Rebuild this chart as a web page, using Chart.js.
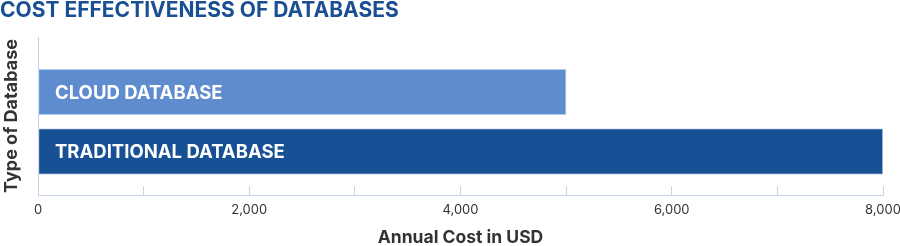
<!DOCTYPE html>
<html>
<head>
<meta charset="utf-8">
<script src="https://cdn.jsdelivr.net/npm/chart.js@4/dist/chart.umd.min.js"></script>
<style>
  html, body { margin:0; padding:0; background:#fff; }
  #wrap { width:900px; height:246px; position:relative; }
</style>
</head>
<body>
<div id="wrap"><canvas id="costChart"></canvas></div>
<script>
const categories = ['CLOUD DATABASE', 'TRADITIONAL DATABASE']
const annualCost = [5000, 8000]
const barColors = ['#5e8ccf', '#175095']
const xTickStep = 1000
const xLabelStep = 2000

const axisColor = '#c5d4e8'
const textColor = '#333333'

Chart.defaults.font.family = 'Inter, "Noto Sans", sans-serif'

// labels drawn inside each bar, left aligned
const barLabels = {
  id:'barLabels',
  afterDatasetsDraw(chart){
    const {ctx, chartArea} = chart
    const meta = chart.getDatasetMeta(0)
    ctx.save()
    ctx.fillStyle = '#ffffff'
    ctx.font = 'bold 18.5px Inter, sans-serif'
    ctx.textBaseline = 'middle'
    ctx.textAlign = 'left'
    meta.data.forEach((bar, i)=>{
      ctx.fillText(categories[i], chartArea.left + 17, bar.y + 1)
    })
    ctx.restore()
  }
}

new Chart(document.getElementById('costChart'), {

  type:'bar',

  data:{
    datasets:[{
      label:'Annual Cost',
      data:annualCost.map((v, i)=>({x:v, y:i})),
      backgroundColor:barColors,
      borderColor:'#d3e0f2',
      borderWidth:1,
      borderSkipped:false,
      barThickness:46
    }]
  },

  options:{
    indexAxis:'y',
    responsive:true,
    maintainAspectRatio:false,
    animation:false,
    layout:{ padding:{ top:0, right:17, bottom:0, left:0 } },

    plugins:{
      legend:{ display:false },
      tooltip:{ enabled:false },
      title:{
        display:true,
        text:'COST EFFECTIVENESS OF DATABASES',
        align:'start',
        color:'#1a4f93',
        font:{ size:21, weight:'bold', lineHeight:1 },
        padding:{ top:0, bottom:16 }
      }
    },

    scales:{
      x:{
        type:'linear',
        min:0,
        max:8000,
        afterFit(scale){
          scale.height = 51
          scale.paddingRight = 0
        },
        border:{ color:axisColor },
        grid:{
          drawOnChartArea:false,
          color:axisColor,
          tickLength:-9
        },
        ticks:{
          stepSize:xTickStep,
          autoSkip:false,
          maxRotation:0,
          padding:16,
          color:textColor,
          font:{ size:13 },
          callback:v => v % xLabelStep === 0 ? v.toLocaleString('en-US') : ''
        },
        title:{
          display:true,
          text:'Annual Cost in USD',
          color:textColor,
          font:{ size:17.5, weight:'bold', lineHeight:1 },
          padding:0
        }
      },
      y:{
        type:'linear',
        reverse:true,
        offset:false,
        min:-0.924,
        max:1.731,
        afterFit(scale){ scale.width = 38 },
        border:{ color:axisColor },
        grid:{ drawOnChartArea:false, drawTicks:false },
        ticks:{ display:false },
        title:{
          display:true,
          text:'Type of Database',
          color:textColor,
          font:{ size:18, weight:'bold', lineHeight:1 },
          padding:{ top:3, bottom:0 }
        }
      }
    }
  },

  plugins:[barLabels]
})
</script>
</body>
</html>
